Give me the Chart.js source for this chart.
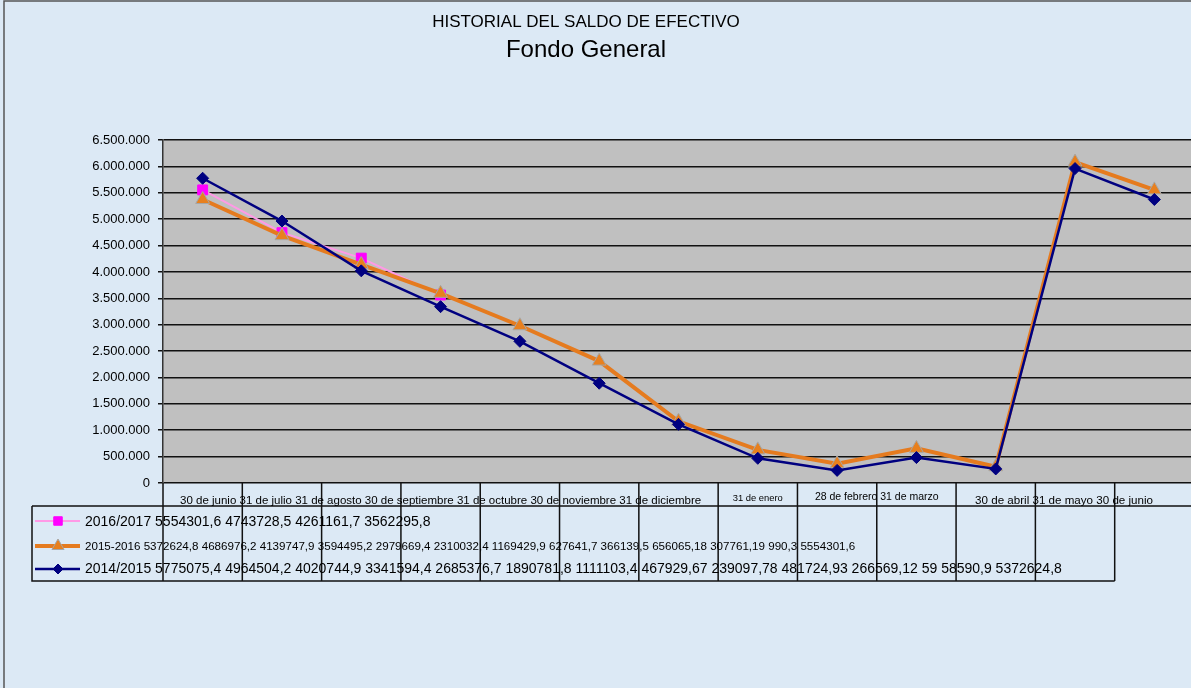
<!DOCTYPE html>
<html>
<head>
<meta charset="utf-8">
<script src="https://cdn.jsdelivr.net/npm/chart.js@4"></script>
<style>
  html, body { margin: 0; padding: 0; overflow: hidden; background: #dce9f5; }
  #marco { width: 1204px; height: 688px; }
  canvas { display: block; width: 1204px; height: 688px; }
</style>
</head>
<body>
<div id="marco"><canvas id="saldoChart" width="1204" height="688"></canvas></div>
<script>
const meses = [
  "30 de junio", "31 de julio", "31 de agosto", "30 de septiembre", "31 de octubre",
  "30 de noviembre", "31 de diciembre", "31 de enero", "28 de febrero", "31 de marzo",
  "30 de abril", "31 de mayo", "30 de junio"
];

const serie1617 = [5554301.6, 4743728.5, 4261161.7, 3562295.8, null, null, null, null, null, null, null, null, null];
const serie1516 = [5372624.8, 4686976.2, 4139747.9, 3594495.2, 2979669.4, 2310032.4, 1169429.9,
  627641.7, 366139.5, 656065.18, 307761.19, 6080990.3, 5554301.6];
const serie1415 = [5775075.4, 4964504.2, 4020744.9, 3341594.4, 2685376.7, 1890781.8, 1111103.4,
  467929.67, 239097.78, 481724.93, 266569.12, 5958590.9, 5372624.8];

const ejeY = { min: 0, max: 6500000, paso: 500000 };

// encabezados de la tabla de datos, tal como salen en el original
const encabezados = [
  "30 de junio 31 de julio 31 de agosto 30 de septiembre 31 de octubre 30 de noviembre 31 de diciembre",
  "31 de enero",
  "28 de febrero 31 de marzo",
  "30 de abril 31 de mayo 30 de junio"
];
const encabezadoRangos = [[0, 6], [7, 7], [8, 9], [10, 12]];

const filasTabla = [
  "2016/2017 5554301,6 4743728,5 4261161,7 3562295,8",
  "2015-2016 5372624,8 4686976,2 4139747,9 3594495,2 2979669,4 2310032,4 1169429,9 627641,7 366139,5 656065,18 307761,19 990,3 5554301,6",
  "2014/2015 5775075,4 4964504,2 4020744,9 3341594,4 2685376,7 1890781,8 1111103,4 467929,67 239097,78 481724,93 266569,12 59 58590,9 5372624,8"
];

const FUENTE = '"Liberation Sans", Arial, sans-serif';

function miles(v) {
  return String(v).replace(/\B(?=(\d{3})+(?!\d))/g, ".");
}

const fondoPlugin = {
  id: "fondo",
  beforeDraw(chart) {
    const { ctx, chartArea: a, width, height } = chart;
    ctx.save();
    ctx.fillStyle = "#dce9f5";
    ctx.fillRect(0, 0, width, height);
    ctx.strokeStyle = "#555";
    ctx.lineWidth = 1.5;
    ctx.beginPath();
    ctx.moveTo(4, height);
    ctx.lineTo(4, 1);
    ctx.lineTo(width, 1);
    ctx.stroke();
    ctx.fillStyle = "#c0c0c0";
    ctx.fillRect(a.left, a.top, a.right - a.left, a.bottom - a.top);
    ctx.restore();
  }
};

const tablaPlugin = {
  id: "tabla",
  afterDraw(chart) {
    const { ctx, chartArea: a } = chart;
    const x = chart.scales.x;
    const paso = x.getPixelForValue(1) - x.getPixelForValue(0);
    const borde = i => x.getPixelForValue(i) - paso / 2;
    const arriba = a.bottom + 23;
    const abajo = a.bottom + 98;
    const izq = 32;

    ctx.save();

    // titulos
    ctx.fillStyle = "#000";
    ctx.textAlign = "center";
    ctx.textBaseline = "alphabetic";
    ctx.font = "17px " + FUENTE;
    ctx.fillText("HISTORIAL DEL SALDO DE EFECTIVO", 586, 27);
    ctx.font = "24px " + FUENTE;
    ctx.fillText("Fondo General", 586, 57);

    // lineas de la tabla
    ctx.strokeStyle = "#111";
    ctx.lineWidth = 1.5;
    ctx.beginPath();
    for (let i = 0; i <= meses.length; i++) {
      ctx.moveTo(borde(i), a.bottom);
      ctx.lineTo(borde(i), abajo);
    }
    ctx.moveTo(izq, arriba);
    ctx.lineTo(chart.width, arriba);
    ctx.moveTo(izq, arriba);
    ctx.lineTo(izq, abajo);
    ctx.lineTo(borde(meses.length - 1), abajo);
    ctx.stroke();

    // encabezados
    const fuentes = [11.5, 9.4, 10.5, 11.6];
    const bases = [504, 501, 500, 504];
    const corrimiento = [0, 0, 0, -11];
    encabezados.forEach((t, g) => {
      const [d, h] = encabezadoRangos[g];
      const cx = (x.getPixelForValue(d) + x.getPixelForValue(h)) / 2 + corrimiento[g];
      ctx.font = fuentes[g] + "px " + FUENTE;
      ctx.fillText(t, cx, bases[g]);
    });

    // filas con clave de leyenda
    const sets = chart.data.datasets;
    const orden = [2, 1, 0];
    const basesFila = [526, 550, 573];
    const centrosFila = [521, 546, 569];
    const tamFila = [14, 11.6, 14];
    ctx.textAlign = "left";
    orden.forEach((di, r) => {
      const ds = sets[di];
      const y = centrosFila[r];
      ctx.strokeStyle = ds.borderColor;
      ctx.lineWidth = ds.borderWidth;
      ctx.beginPath();
      ctx.moveTo(35, y);
      ctx.lineTo(80, y);
      ctx.stroke();
      ctx.fillStyle = ds.pointBackgroundColor;
      ctx.strokeStyle = ds.pointBorderColor;
      ctx.lineWidth = ds.pointBorderWidth;
      Chart.helpers.drawPoint(ctx, {
        pointStyle: ds.pointStyle, radius: ds.pointRadius - 1, rotation: 0,
        borderWidth: ds.pointBorderWidth
      }, 58, y);
      ctx.fillStyle = "#000";
      ctx.font = tamFila[r] + "px " + FUENTE;
      ctx.fillText(filasTabla[r], 85, basesFila[r]);
    });

    ctx.restore();
  }
};

new Chart(document.getElementById("saldoChart").getContext("2d"), {
  type: "line",
  data: {
    labels: meses,
    datasets: [
      {
        label: "2014/2015",
        data: serie1415,
        borderColor: "#000080",
        borderWidth: 2.5,
        pointStyle: "rectRot",
        pointRadius: 6,
        pointBackgroundColor: "#000080",
        pointBorderColor: "#000080",
        pointBorderWidth: 1,
      },
      {
        label: "2015-2016",
        data: serie1516,
        borderColor: "#e57b1f",
        borderWidth: 4,
        pointStyle: "triangle",
        pointRadius: 8,
        pointBackgroundColor: "#e8801e",
        pointBorderColor: "#a6a6a6",
        pointBorderWidth: 1,
      },
      {
        label: "2016/2017",
        data: serie1617,
        borderColor: "#ff99e6",
        borderWidth: 2,
        pointStyle: "rect",
        pointRadius: 7,
        pointBackgroundColor: "#ff00ff",
        pointBorderColor: "#ff00ff",
        pointBorderWidth: 1,
      },
    ],
  },
  options: {
    responsive: false,
    animation: false,
    layout: { padding: { left: 0, top: 140, right: 10, bottom: 205 } },
    elements: { line: { tension: 0 } },
    scales: {
      x: { display: false, offset: true },
      y: {
        min: ejeY.min,
        max: ejeY.max,
        afterFit(scale) { scale.width = 163; },
        ticks: {
          stepSize: ejeY.paso,
          color: "#000",
          padding: 8,
          font: { family: FUENTE, size: 13 },
          callback: v => miles(v),
        },
        grid: { color: "#111", lineWidth: 1.5, tickLength: 5 },
        border: { color: "#333", width: 1.5 },
      },
    },
    plugins: {
      legend: { display: false },
      title: { display: false },
      tooltip: { enabled: false },
    },
  },
  plugins: [fondoPlugin, tablaPlugin],
});
</script>
</body>
</html>
